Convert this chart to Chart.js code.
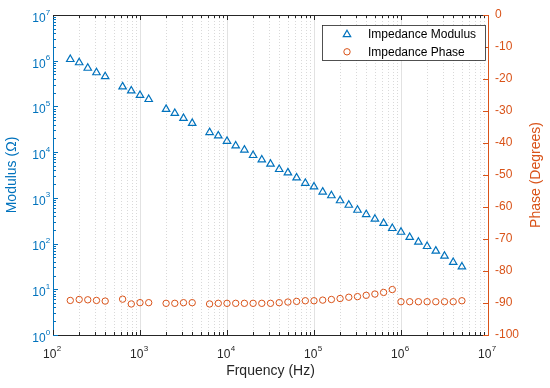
<!DOCTYPE html>
<html>
<head>
<meta charset="utf-8">
<script src="https://cdn.jsdelivr.net/npm/chart.js"></script>
<style>
  body { margin: 0; background: #fff; }
  #wrap { width: 550px; height: 388px; }
</style>
</head>
<body>
<div id="wrap"><canvas id="impChart" width="550" height="388"></canvas></div>
<script>
// frequencies (Hz)
const freqHz = [158, 200, 251, 316, 398, 631, 794, 1000, 1259, 1995, 2512, 3162, 3981,
  6310, 7943, 10000, 12589, 15849, 19953, 25119, 31623, 39811, 50119, 63096, 79433,
  100000, 125893, 158489, 199526, 251189, 316228, 398107, 501187, 630957, 794328,
  1000000, 1258925, 1584893, 1995262, 2511886, 3162278, 3981072, 5011872];
// impedance modulus (Ohm)
const modulusOhm = [1.07e6, 9.1e5, 6.9e5, 5.5e5, 4.5e5, 2.7e5, 2.2e5, 1.75e5, 1.43e5, 8.7e4, 7.1e4, 5.5e4, 4.3e4,
  2.7e4, 2.28e4, 1.74e4, 1.38e4, 1.12e4, 8.5e3, 6.8e3, 5.5e3, 4.2e3, 3.55e3, 2.75e3, 2.1e3,
  1.75e3, 1.35e3, 1.12e3, 870, 695, 540, 435, 345, 278, 215,
  178, 137, 108, 87, 69, 53.5, 39, 31];
// impedance phase (degrees)
const phaseDeg = [-89.2, -88.9, -89.0, -89.2, -89.4, -88.8, -90.3, -89.9, -89.9, -90.1, -90.1, -89.9, -89.9,
  -90.3, -90.1, -90.1, -90.1, -90.1, -90.1, -90.1, -90.1, -89.9, -89.7, -89.5, -89.3,
  -89.3, -89.1, -88.9, -88.6, -88.2, -88.0, -87.6, -87.2, -86.7, -85.8,
  -89.6, -89.6, -89.6, -89.6, -89.6, -89.6, -89.6, -89.3];

const freqTicks = [1e2, 1e3, 1e4, 1e5, 1e6, 1e7];
const modulusTicks = [1e0, 1e1, 1e2, 1e3, 1e4, 1e5, 1e6, 1e7];
const phaseTicks = [-100, -90, -80, -70, -60, -50, -40, -30, -20, -10, 0];

const BLUE = '#0072BD';
const ORANGE = '#D95319';
const AXIS = '#262626';
const FONT = "'Liberation Sans', Arial, Helvetica, sans-serif";

Chart.defaults.font.family = FONT;
Chart.defaults.font.size = 12;

// "10" with a raised exponent, MATLAB style
function drawPow(ctx, v, x, yBase, align, color) {
  const e = String(Math.round(Math.log10(v)));
  ctx.fillStyle = color;
  ctx.textBaseline = 'alphabetic';
  ctx.textAlign = 'left';
  ctx.font = '12px ' + FONT;
  const wb = ctx.measureText('10').width;
  ctx.font = '8px ' + FONT;
  const we = ctx.measureText(e).width;
  let x0 = align === 'right' ? x - wb - we : x - (wb + we) / 2;
  ctx.font = '12px ' + FONT;
  ctx.fillText('10', x0, yBase);
  ctx.font = '8px ' + FONT;
  ctx.fillText(e, x0 + wb + 0.3, yBase - 7.3);
}

// grid lines, inward ticks, log tick labels, right title and the boxed legend
const matlabAxes = {
  id: 'matlabAxes',
  beforeDatasetsDraw(chart) {
    const {ctx, chartArea: a, scales: {x}} = chart;
    ctx.save();
    ctx.lineWidth = 1;
    for (let e = 2; e < 7; e++) {
      for (let m = 1; m < 10; m++) {
        const v = m * Math.pow(10, e);
        if (m === 1 && e === 2) continue;
        const px = Math.round(x.getPixelForValue(v)) + 0.5;
        if (m === 1) {
          ctx.setLineDash([]);
          ctx.strokeStyle = '#e2e2e2';
        } else {
          ctx.setLineDash([1, 2]);
          ctx.strokeStyle = '#d9d9d9';
        }
        ctx.beginPath();
        ctx.moveTo(px, a.top);
        ctx.lineTo(px, a.bottom);
        ctx.stroke();
      }
    }
    ctx.restore();
  },
  afterDraw(chart) {
    const {ctx, chartArea: a, scales: {x, y, y1}} = chart;
    ctx.save();
    ctx.lineWidth = 1;

    // top box line
    ctx.strokeStyle = AXIS;
    ctx.beginPath();
    ctx.moveTo(a.left, a.top + 0.5);
    ctx.lineTo(a.right, a.top + 0.5);
    ctx.stroke();

    // x ticks (bottom and top, inward)
    for (let e = 2; e < 7; e++) {
      for (let m = 1; m < 10; m++) {
        const px = Math.round(x.getPixelForValue(m * Math.pow(10, e))) + 0.5;
        const len = m === 1 ? 5 : 3;
        ctx.beginPath();
        ctx.moveTo(px, a.bottom);
        ctx.lineTo(px, a.bottom - len);
        ctx.moveTo(px, a.top);
        ctx.lineTo(px, a.top + len);
        ctx.stroke();
      }
    }

    // left log ticks
    ctx.strokeStyle = BLUE;
    for (let e = 0; e < 7; e++) {
      for (let m = 1; m < 10; m++) {
        const py = Math.round(y.getPixelForValue(m * Math.pow(10, e))) + 0.5;
        const len = m === 1 ? 5 : 3;
        ctx.beginPath();
        ctx.moveTo(a.left, py);
        ctx.lineTo(a.left + len, py);
        ctx.stroke();
      }
    }

    // right linear ticks
    ctx.strokeStyle = ORANGE;
    phaseTicks.forEach(v => {
      const py = Math.round(y1.getPixelForValue(v)) + 0.5;
      ctx.beginPath();
      ctx.moveTo(a.right, py);
      ctx.lineTo(a.right - 5, py);
      ctx.stroke();
    });

    // log tick labels
    x.ticks.forEach(t => drawPow(ctx, t.value, x.getPixelForValue(t.value) - 1, a.bottom + 23.3, 'center', AXIS));
    y.ticks.forEach(t => drawPow(ctx, t.value, a.left - 3, y.getPixelForValue(t.value) + 6.8, 'right', BLUE));

    // right axis title, reading bottom to top
    ctx.save();
    ctx.translate(536, (a.top + a.bottom) / 2);
    ctx.rotate(-Math.PI / 2);
    ctx.fillStyle = ORANGE;
    ctx.font = '14px ' + FONT;
    ctx.textAlign = 'center';
    ctx.textBaseline = 'middle';
    ctx.fillText('Phase (Degrees)', 0, 0);
    ctx.restore();

    // legend box
    const bw = 163, bh = 35;
    const bx = a.right - 3 - bw, by = a.top + 10;
    ctx.fillStyle = '#fff';
    ctx.fillRect(bx, by, bw, bh);
    ctx.strokeStyle = AXIS;
    ctx.lineWidth = 0.8;
    ctx.strokeRect(bx + 0.5, by + 0.5, bw, bh);

    const rows = [by + 9.5, by + 26.8];
    chart.data.datasets.forEach((ds, i) => {
      const cy = rows[i];
      const cx = bx + 25;
      ctx.strokeStyle = ds.borderColor;
      ctx.lineWidth = ds.borderWidth;
      ctx.beginPath();
      if (ds.pointStyle === 'triangle') {
        const r = ds.pointRadius;
        ctx.moveTo(cx, cy - r);
        ctx.lineTo(cx + r * 0.866, cy + r / 2);
        ctx.lineTo(cx - r * 0.866, cy + r / 2);
        ctx.closePath();
      } else {
        ctx.arc(cx, cy, ds.pointRadius, 0, Math.PI * 2);
      }
      ctx.stroke();
      ctx.fillStyle = '#000';
      ctx.font = '12px ' + FONT;
      ctx.textBaseline = 'middle';
      ctx.textAlign = 'left';
      ctx.fillText(ds.label, bx + 46, cy + 0.5);
    });
    ctx.restore();
  }
};

const ctx = document.getElementById('impChart').getContext('2d');
const impChart = new Chart(ctx, {
  type: 'scatter',
  data: {
    datasets: [{
      label: 'Impedance Modulus',
      data: freqHz.map((f, i) => ({x: f, y: modulusOhm[i]})),
      yAxisID: 'y',
      pointStyle: 'triangle',
      pointRadius: 4.3,
      pointHoverRadius: 4.3,
      borderColor: BLUE,
      backgroundColor: 'rgba(0,0,0,0)',
      borderWidth: 1.2,
      showLine: false
    }, {
      label: 'Impedance Phase',
      data: freqHz.map((f, i) => ({x: f, y: phaseDeg[i]})),
      yAxisID: 'y1',
      pointStyle: 'circle',
      pointRadius: 3.2,
      pointHoverRadius: 3.2,
      borderColor: ORANGE,
      backgroundColor: 'rgba(0,0,0,0)',
      borderWidth: 1,
      showLine: false
    }]
  },
  options: {
    responsive: false,
    animation: false,
    events: [],
    layout: { padding: { top: 15, left: 0, right: 0, bottom: 0 } },
    plugins: {
      legend: { display: false },
      tooltip: { enabled: false }
    },
    scales: {
      x: {
        type: 'logarithmic',
        min: 1e2,
        max: 1e7,
        afterBuildTicks: s => { s.ticks = freqTicks.map(v => ({value: v})); },
        afterFit: s => { s.height = 53; },
        grid: { display: false, drawTicks: false },
        border: { color: AXIS, width: 1 },
        ticks: { display: false, autoSkip: false },
        title: { display: true, text: 'Frquency (Hz)', color: AXIS, font: { size: 14 }, padding: { top: 0, bottom: 8 } }
      },
      y: {
        type: 'logarithmic',
        position: 'left',
        min: 1e0,
        max: 1e7,
        afterBuildTicks: s => { s.ticks = modulusTicks.map(v => ({value: v})); },
        afterFit: s => { s.width = 53; },
        grid: { display: false, drawTicks: false },
        border: { color: BLUE, width: 1 },
        ticks: { display: false, autoSkip: false },
        title: { display: true, text: 'Modulus (\u03A9)', color: BLUE, font: { size: 14 }, padding: { top: 4, bottom: 0 } }
      },
      y1: {
        type: 'linear',
        position: 'right',
        min: -100,
        max: 0,
        afterBuildTicks: s => { s.ticks = phaseTicks.map(v => ({value: v})); },
        afterFit: s => { s.width = 62; },
        grid: { display: false, drawTicks: false },
        border: { color: ORANGE, width: 1 },
        ticks: { color: ORANGE, padding: 7, autoSkip: false },
        title: { display: false }
      }
    }
  },
  plugins: [matlabAxes]
});
</script>
</body>
</html>
